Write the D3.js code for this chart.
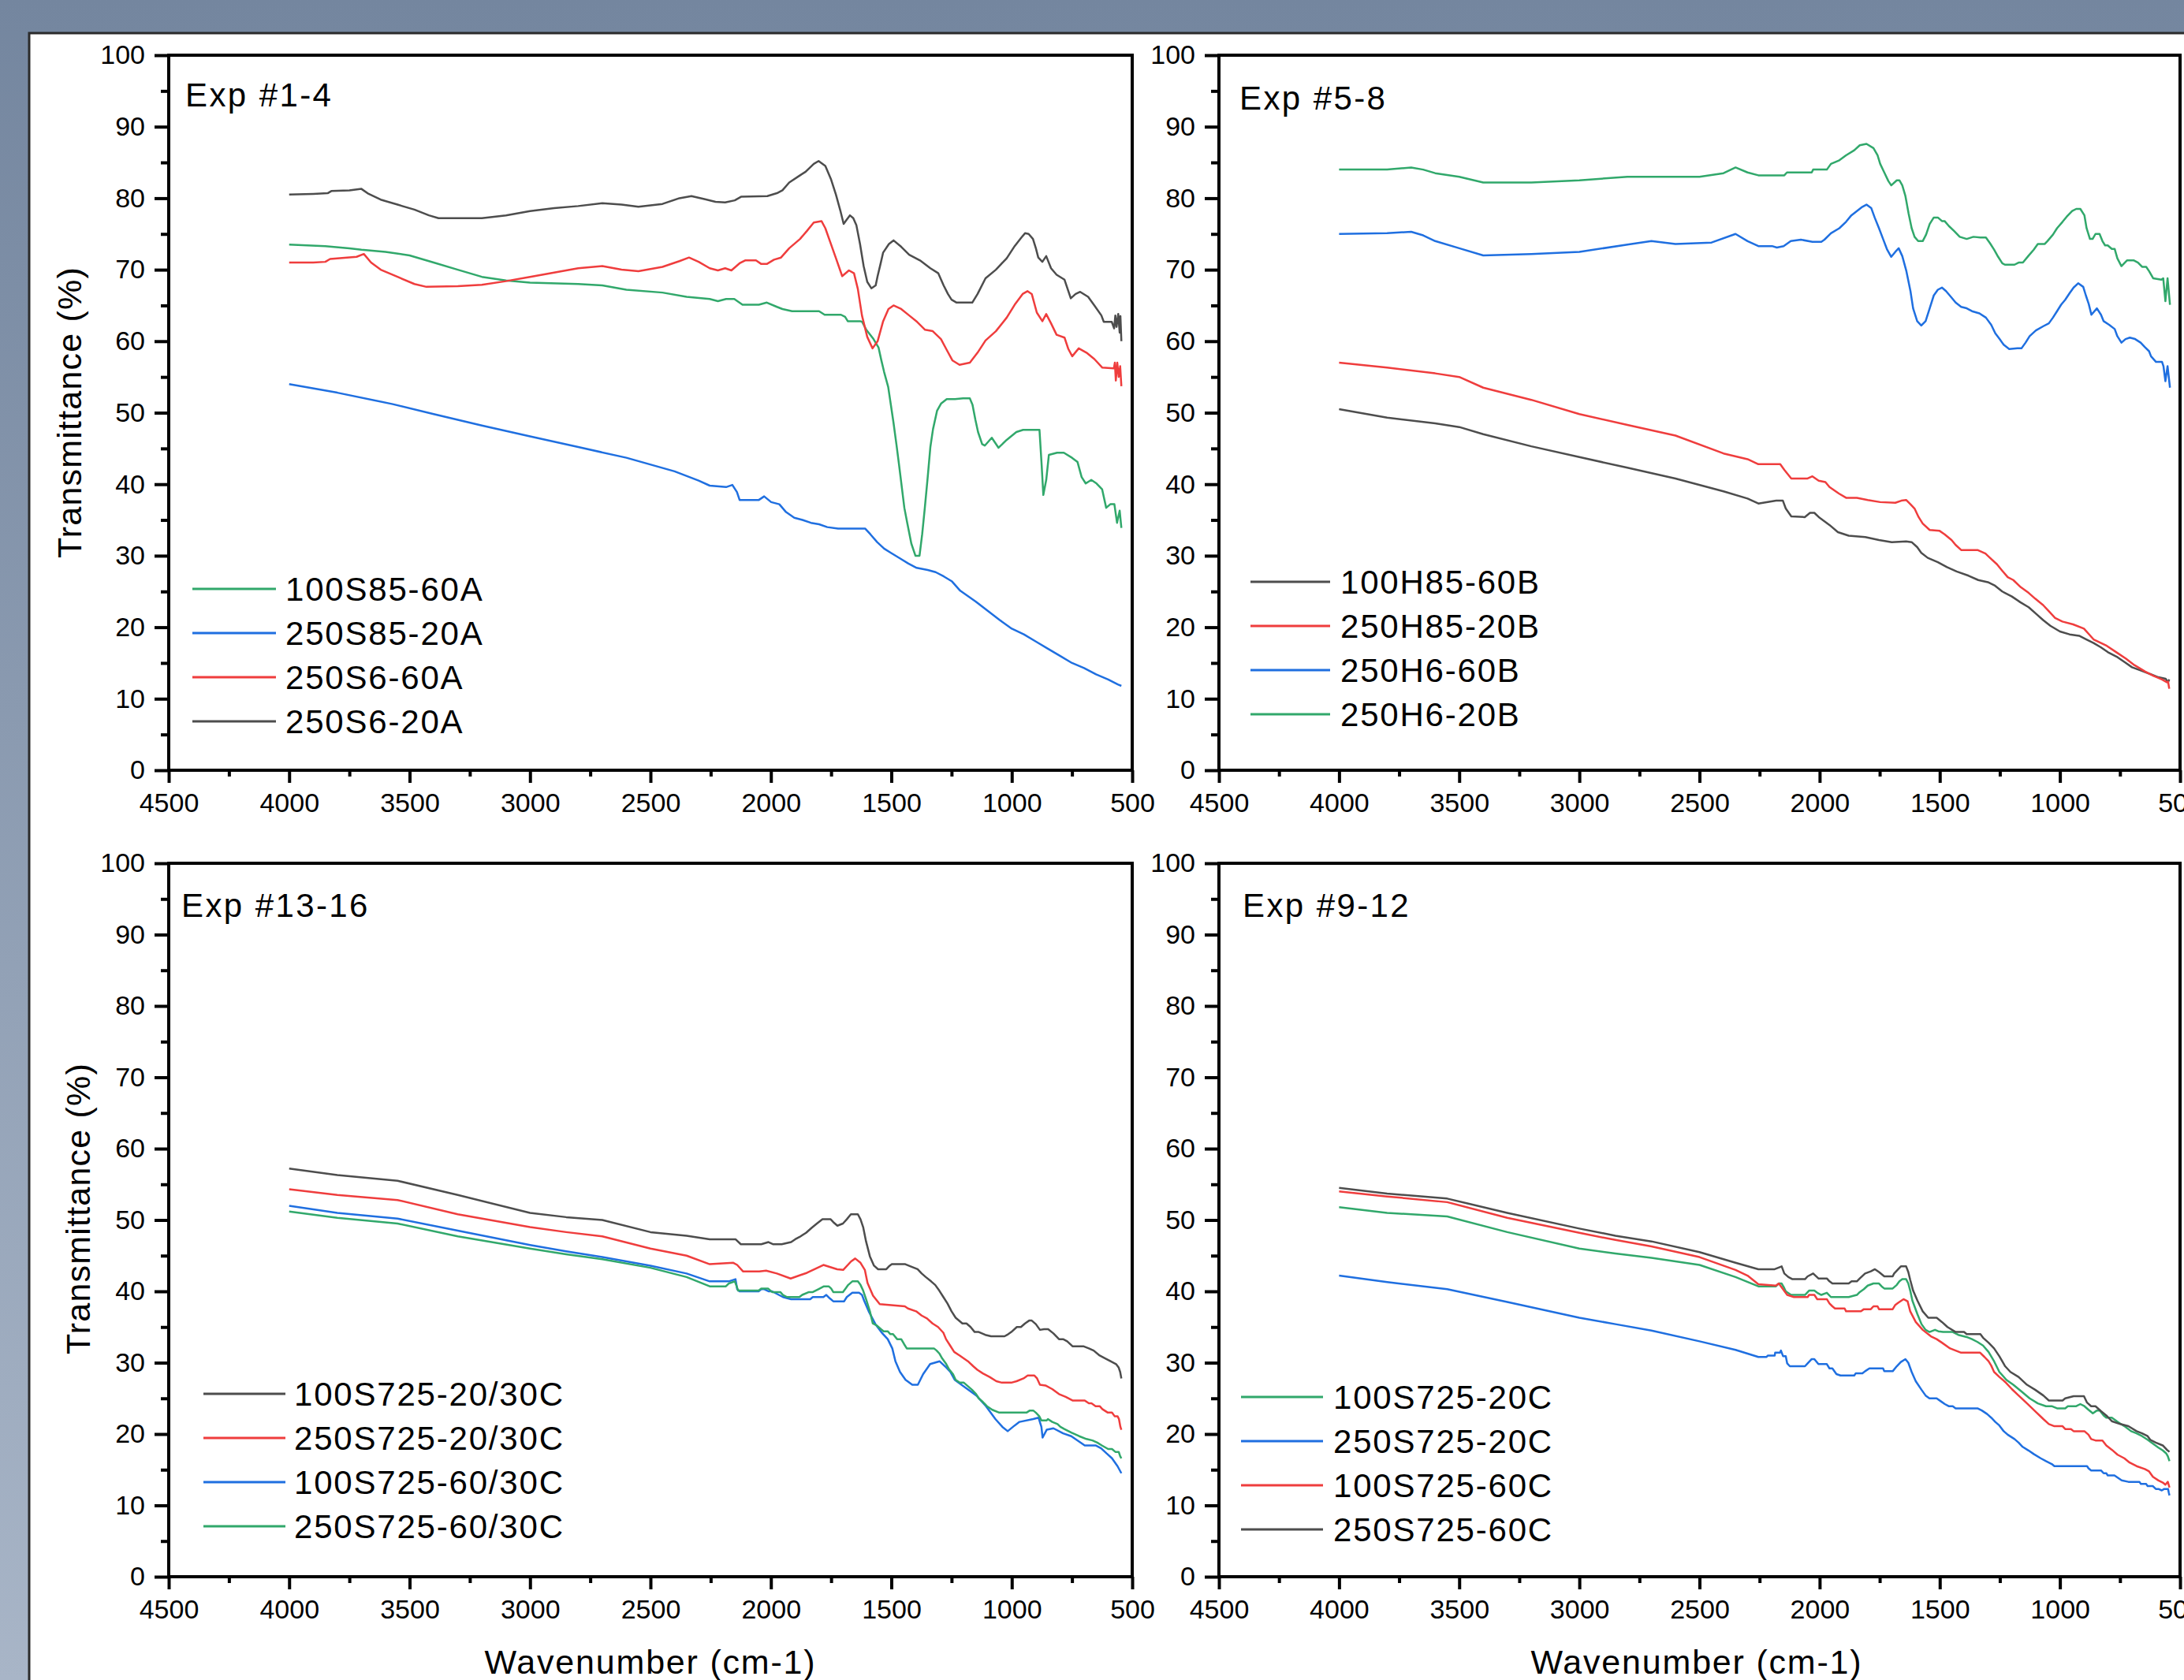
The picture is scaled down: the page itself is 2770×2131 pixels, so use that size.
<!DOCTYPE html>
<html>
<head>
<meta charset="utf-8">
<title>FTIR transmittance</title>
<script src="https://d3js.org/d3.v7.min.js"></script>
<style>
  body { margin: 0; background: #7b8ba3; }
  svg { display: block; font-family: "Liberation Sans", Arial, sans-serif; }
  .tick text { font-size: 34px; fill: #000; font-family: "Liberation Sans", Arial, sans-serif; }
  .tick line { stroke: #000; stroke-width: 4; }
  .domain { display: none; }
</style>
</head>
<body>
<svg id="chart" width="2770" height="2131"></svg>
<script>

// axis ticks
var xTicks = [4500, 4000, 3500, 3000, 2500, 2000, 1500, 1000, 500];
var xMinor = [4250, 3750, 3250, 2750, 2250, 1750, 1250, 750];
var yTicks = [0, 10, 20, 30, 40, 50, 60, 70, 80, 90, 100];
var yMinor = [5, 15, 25, 35, 45, 55, 65, 75, 85, 95];

var colBlack = "#4d4d4d", colRed = "#ef3d3d", colBlue = "#1f6fe0", colGreen = "#31a86b";

// ---- Exp #1-4 : [wavenumber, transmittance]
var exp1Names = ["100S85-60A", "250S85-20A", "250S6-60A", "250S6-20A"];
var exp1Colors = [colGreen, colBlue, colRed, colBlack];

var s100S85_60A = [[4000,73.5],[3850,73.3],[3750,73],[3700,72.8],[3600,72.5],[3500,72],[3400,71],[3300,70],[3200,69],[3100,68.5],[3000,68.2],[2800,68],[2700,67.8],[2600,67.2],[2450,66.8],[2350,66.2],[2254,65.9],[2220,65.6],[2186,65.9],[2152,65.9],[2118,65.1],[2050,65.1],[2017,65.4],[1975,64.8],[1952,64.5],[1912,64.2],[1800,64.2],[1777,63.7],[1709,63.7],[1692,63.4],[1681,62.8],[1630,62.8],[1621,62.7],[1604,61.6],[1576,60.4],[1553,59.1],[1542,57.4],[1530,55.7],[1513,53.6],[1502,51.1],[1491,48.6],[1479,45.6],[1468,42.7],[1457,39.7],[1446,36.7],[1434,34.6],[1417,31.7],[1400,30],[1383,30],[1372,33],[1361,36.7],[1349,41],[1338,45.2],[1327,47.7],[1310,50.3],[1293,51.3],[1270,51.9],[1236,51.9],[1202,52],[1174,52],[1163,51.1],[1151,49],[1140,47.3],[1123,45.6],[1112,45.4],[1083,46.5],[1055,45.1],[1021,46.2],[981,47.3],[953,47.6],[885,47.6],[876,42.7],[869,38.5],[857,40.6],[846,44.1],[812,44.4],[784,44.4],[750,43.7],[727,43.1],[710,41],[693,40.1],[670,40.6],[648,40.1],[625,39.3],[608,36.7],[591,37.2],[574,37.2],[563,34.6],[552,36.3],[545,33.9]];

var s250S85_20A = [[4000,54],[3800,52.8],[3570,51.2],[3400,49.8],[3200,48.2],[3000,46.7],[2800,45.2],[2600,43.7],[2400,41.8],[2300,40.5],[2254,39.8],[2186,39.6],[2160,39.9],[2141,38.9],[2130,37.8],[2050,37.8],[2028,38.3],[1999,37.5],[1965,37.2],[1937,36.1],[1903,35.3],[1869,35],[1834,34.6],[1800,34.4],[1766,34],[1721,33.8],[1609,33.8],[1587,33],[1559,31.9],[1530,31],[1502,30.4],[1463,29.6],[1429,28.9],[1395,28.3],[1349,28],[1316,27.7],[1282,27.1],[1248,26.4],[1214,25.1],[1150,23.6],[1100,22.3],[1050,21],[1000,19.8],[950,19],[900,18],[850,17],[800,16],[750,15],[700,14.3],[650,13.4],[600,12.7],[560,12],[545,11.8]];

var s250S6_60A = [[4000,71],[3900,71],[3850,71.1],[3830,71.5],[3720,71.8],[3690,72.2],[3660,71],[3620,70],[3550,69],[3480,68],[3430,67.6],[3300,67.7],[3200,67.9],[3100,68.4],[3000,69],[2900,69.6],[2800,70.2],[2700,70.5],[2620,70],[2550,69.8],[2450,70.4],[2380,71.2],[2340,71.7],[2300,71.1],[2254,70.2],[2220,69.9],[2190,70.2],[2164,69.9],[2130,70.9],[2107,71.3],[2062,71.3],[2040,70.8],[2017,70.8],[1987,71.4],[1958,71.7],[1924,73],[1879,74.3],[1851,75.4],[1822,76.6],[1790,76.8],[1774,75.8],[1753,73.8],[1731,71.7],[1704,69.1],[1676,69.9],[1655,69.5],[1639,67.3],[1622,63.6],[1600,60.6],[1578,59],[1557,60],[1534,62.8],[1512,64.5],[1491,65],[1459,64.5],[1426,63.6],[1393,62.7],[1360,61.6],[1328,61.4],[1294,60.3],[1272,58.9],[1246,57.3],[1217,56.7],[1174,57],[1142,58.4],[1109,60.1],[1066,61.4],[1021,63.3],[988,65.1],[955,66.6],[935,67],[917,66.6],[896,64],[873,62.8],[857,63.8],[837,62.5],[814,60.9],[781,60.5],[765,58.9],[749,57.9],[722,59],[690,58.4],[657,57.5],[624,56.3],[576,56.2],[572,57],[568,54.5],[562,57],[556,55],[550,56.5],[545,53.7]];

var s250S6_20A = [[4000,80.5],[3900,80.6],[3840,80.7],[3825,81],[3750,81.1],[3700,81.3],[3670,80.6],[3620,79.8],[3550,79.1],[3480,78.4],[3420,77.6],[3380,77.2],[3200,77.2],[3100,77.6],[3000,78.2],[2900,78.6],[2800,78.9],[2700,79.3],[2620,79.1],[2550,78.8],[2450,79.2],[2380,80],[2330,80.3],[2280,79.9],[2230,79.5],[2190,79.4],[2150,79.7],[2124,80.2],[2015,80.3],[1975,80.7],[1952,81.1],[1924,82.2],[1879,83.2],[1856,83.7],[1822,84.8],[1802,85.2],[1774,84.5],[1750,82.6],[1730,80.5],[1712,78.3],[1698,76.4],[1685,77],[1672,77.6],[1658,77.2],[1645,76.2],[1630,73.6],[1615,70.5],[1600,68.3],[1583,67.4],[1565,67.8],[1557,69.1],[1545,70.8],[1534,72.4],[1510,73.6],[1491,74.1],[1459,73.2],[1426,72.1],[1381,71.3],[1338,70.2],[1305,69.5],[1283,67.8],[1265,66.6],[1250,65.8],[1229,65.4],[1164,65.4],[1142,66.6],[1109,68.8],[1066,70],[1021,71.6],[988,73.3],[960,74.5],[945,75.1],[930,75],[912,74.3],[900,73],[890,71.7],[873,71.1],[857,71.9],[837,70.2],[814,69.3],[781,68.6],[765,67],[755,66],[735,66.6],[716,66.9],[683,66.2],[657,65],[628,63.6],[618,62.7],[585,62.7],[575,61.8],[570,63.6],[565,62],[558,63.8],[552,61.2],[549,63.5],[545,60]];

// ---- Exp #5-8
var exp2Names = ["100H85-60B", "250H85-20B", "250H6-60B", "250H6-20B"];
var exp2Colors = [colBlack, colRed, colBlue, colGreen];

var s100H85_60B = [[4000,50.5],[3800,49.3],[3600,48.5],[3500,48],[3400,47],[3200,45.3],[3000,43.8],[2800,42.3],[2600,40.8],[2400,39],[2300,38],[2255,37.3],[2181,37.7],[2153,37.7],[2141,36.6],[2118,35.5],[2062,35.4],[2040,36],[2022,36],[2000,35.3],[1959,34.3],[1924,33.3],[1879,32.8],[1810,32.6],[1753,32.2],[1700,31.9],[1640,32],[1617,31.9],[1594,31.2],[1577,30.4],[1550,29.7],[1508,29.1],[1470,28.4],[1430,27.8],[1380,27.2],[1340,26.6],[1300,26.3],[1270,25.8],[1240,25],[1200,24.3],[1165,23.5],[1130,22.8],[1100,21.9],[1070,21],[1040,20.2],[1000,19.4],[960,19],[920,18.8],[890,18.3],[860,17.8],[830,17.2],[800,16.5],[760,15.8],[730,15.1],[700,14.4],[660,13.9],[620,13.4],[590,13],[560,12.8],[550,12.3],[545,12.7]];

var s250H85_20B = [[4000,57],[3800,56.3],[3600,55.5],[3500,55],[3400,53.5],[3200,51.8],[3000,49.8],[2800,48.3],[2600,46.8],[2400,44.3],[2300,43.5],[2255,42.8],[2164,42.8],[2147,42],[2118,40.8],[2050,40.8],[2030,41.1],[2004,40.5],[1976,40.3],[1959,39.6],[1920,38.7],[1890,38.1],[1845,38.1],[1800,37.8],[1748,37.5],[1685,37.4],[1660,37.7],[1640,37.8],[1622,37.2],[1605,36.6],[1588,35.4],[1571,34.5],[1542,33.6],[1502,33.5],[1480,33],[1451,32.2],[1434,31.5],[1411,30.8],[1343,30.8],[1310,30.3],[1291,29.7],[1262,28.8],[1240,27.9],[1217,27],[1194,26.6],[1163,25.6],[1130,24.8],[1103,24],[1070,23.1],[1045,22.2],[1020,21.3],[990,20.8],[945,20.4],[900,19.8],[860,18.3],[805,17.4],[765,16.5],[725,15.6],[690,14.7],[645,13.8],[610,13.2],[575,12.7],[555,12.3],[550,12.4],[545,11.4]];

var s250H6_60B = [[4000,75],[3800,75.1],[3700,75.3],[3650,74.8],[3600,74],[3500,73],[3400,72],[3200,72.2],[3000,72.5],[2800,73.5],[2700,74],[2600,73.6],[2450,73.8],[2350,75],[2300,74],[2255,73.3],[2198,73.3],[2178,73.1],[2150,73.3],[2120,74],[2078,74.2],[2030,73.9],[1993,73.9],[1980,74.2],[1953,75.1],[1918,75.8],[1890,76.7],[1868,77.6],[1845,78.2],[1822,78.8],[1805,79.1],[1785,78.6],[1771,77.3],[1753,75.8],[1736,74.3],[1719,72.8],[1702,71.8],[1685,72.5],[1671,73],[1656,71.9],[1639,69.8],[1622,67],[1611,64.6],[1594,62.8],[1577,62.2],[1559,62.8],[1542,64.6],[1525,66.4],[1508,67.2],[1491,67.5],[1474,67],[1451,66.1],[1434,65.4],[1411,64.8],[1388,64.6],[1366,64.2],[1335,63.9],[1308,63.3],[1286,62.3],[1269,61.1],[1251,60.3],[1234,59.5],[1211,58.9],[1177,59],[1160,59],[1143,59.8],[1126,60.7],[1100,61.5],[1069,62.1],[1046,62.5],[1029,63.3],[1012,64.2],[995,65.1],[978,65.8],[960,66.7],[943,67.5],[924,68.1],[903,67.6],[892,66.4],[880,65.2],[869,63.7],[846,64.6],[829,63.7],[818,62.8],[795,62.3],[772,61.7],[761,60.7],[744,59.8],[727,60.3],[709,60.5],[687,60.3],[664,59.8],[647,59.2],[629,58.6],[621,57.9],[600,57.1],[575,57.1],[569,56.5],[561,54.4],[552,56.5],[542,53.5]];

var s250H6_20B = [[4000,84],[3800,84],[3700,84.3],[3650,84],[3600,83.5],[3500,83],[3400,82.2],[3200,82.2],[3000,82.5],[2800,83],[2600,83],[2500,83],[2400,83.5],[2350,84.3],[2300,83.6],[2255,83.2],[2147,83.2],[2136,83.6],[2033,83.6],[2027,84],[1970,84],[1953,84.8],[1918,85.3],[1890,86],[1856,86.7],[1833,87.4],[1805,87.6],[1776,87],[1759,86],[1748,84.8],[1731,83.6],[1714,82.4],[1702,81.8],[1679,82.5],[1668,82.5],[1656,81.8],[1643,80.3],[1630,77.9],[1617,75.8],[1605,74.6],[1590,74],[1571,74],[1557,74.9],[1542,76.4],[1525,77.3],[1508,77.3],[1491,76.8],[1480,76.8],[1462,76.1],[1440,75.4],[1417,74.6],[1388,74.3],[1360,74.6],[1331,74.5],[1308,74.5],[1291,73.7],[1274,72.8],[1257,71.8],[1240,70.9],[1229,70.7],[1189,70.7],[1172,71],[1154,71],[1132,71.9],[1109,72.8],[1092,73.6],[1063,73.6],[1052,74],[1029,74.9],[1012,75.8],[989,76.7],[972,77.4],[949,78.2],[932,78.5],[915,78.5],[898,77.6],[889,75.8],[875,74.3],[864,74.3],[852,75],[835,75],[823,74],[812,73.4],[801,73.4],[784,72.9],[772,72.9],[761,71.6],[744,70.5],[721,71.3],[692,71.3],[675,71],[658,70.4],[641,70.4],[629,69.8],[612,68.8],[578,68.6],[570,68.8],[561,65.6],[552,68.8],[542,65.1]];

// ---- Exp #13-16
var exp3Names = ["100S725-20/30C", "250S725-20/30C", "100S725-60/30C", "250S725-60/30C"];
var exp3Colors = [colBlack, colRed, colBlue, colGreen];

var s100S725_20_30C = [[4000,57.2],[3800,56.3],[3550,55.5],[3300,53.5],[3000,51],[2850,50.4],[2700,50],[2500,48.3],[2350,47.8],[2254,47.3],[2147,47.3],[2125,46.6],[2040,46.6],[2010,46.9],[1990,46.6],[1955,46.6],[1916,46.9],[1899,47.3],[1882,47.6],[1854,48.2],[1831,48.9],[1809,49.5],[1786,50.1],[1752,50.1],[1741,49.7],[1724,49.2],[1701,49.5],[1685,50.1],[1668,50.8],[1639,50.8],[1628,50.1],[1617,49],[1605,47],[1589,44.9],[1572,43.6],[1555,43.1],[1521,43.1],[1510,43.5],[1498,43.8],[1442,43.8],[1420,43.5],[1391,43.1],[1374,42.5],[1357,42],[1335,41.4],[1318,40.9],[1301,40.1],[1284,39.2],[1267,38.3],[1250,37.2],[1233,36.3],[1205,35.5],[1188,35.5],[1171,35],[1154,34.3],[1137,34.3],[1110,33.9],[1086,33.7],[1030,33.7],[1019,33.9],[1002,34.3],[979,35],[962,35],[945,35.5],[928,35.9],[917,35.9],[900,35.4],[883,34.6],[866,34.7],[849,34.7],[827,34.1],[804,33.3],[787,33.3],[770,33],[748,32.3],[703,32.3],[680,32],[660,31.7],[635,31],[612,30.6],[590,30.2],[567,29.8],[556,29.3],[550,28.7],[545,27.8]];

var s250S725_20_30C = [[4000,54.3],[3800,53.5],[3550,52.8],[3300,50.8],[3000,49],[2850,48.3],[2700,47.7],[2500,46],[2350,45],[2254,43.8],[2156,44],[2140,43.7],[2116,42.8],[2048,42.8],[2020,42.9],[1975,42.5],[1918,41.8],[1850,42.6],[1782,43.7],[1725,43.1],[1700,43],[1667,44.2],[1650,44.6],[1628,44],[1610,43],[1599,41.2],[1576,39.4],[1548,38.2],[1444,37.9],[1431,37.6],[1397,37.2],[1374,36.6],[1352,36.2],[1329,35.5],[1306,35],[1284,34.2],[1273,33.3],[1256,32.4],[1239,31.5],[1216,31],[1182,30.2],[1160,29.5],[1143,29],[1120,28.5],[1092,28],[1064,27.4],[1041,27.2],[1002,27.2],[980,27.4],[951,27.8],[934,28.2],[906,28.2],[895,27.8],[883,26.9],[860,26.8],[832,26.3],[804,25.6],[776,25.2],[748,24.7],[697,24.7],[680,24.3],[669,24.3],[652,23.9],[635,23.9],[624,23.5],[601,23],[584,23],[573,22.5],[561,22.5],[555,22.1],[549,21],[545,20.6]];

var s100S725_60_30C = [[4000,52],[3800,51],[3550,50.2],[3300,48.5],[3000,46.5],[2850,45.6],[2700,44.8],[2500,43.6],[2350,42.5],[2254,41.4],[2175,41.4],[2147,41.7],[2140,40.3],[2130,40],[2051,40],[2040,40.3],[2027,40.3],[2010,40],[1995,40],[1950,39.2],[1916,38.9],[1837,38.9],[1826,39.2],[1782,39.2],[1770,39.5],[1755,39],[1741,38.6],[1696,38.6],[1685,39.2],[1662,39.8],[1634,39.8],[1622,39.5],[1613,38.7],[1594,37.2],[1566,35.4],[1537,34.1],[1515,33.3],[1496,32],[1483,30.2],[1464,28.7],[1441,27.6],[1413,26.9],[1390,26.9],[1368,28.4],[1339,29.8],[1300,30.2],[1271,29.3],[1255,28.7],[1237,27.6],[1192,26.5],[1147,25.4],[1107,23.9],[1068,22.1],[1039,21],[1017,20.4],[988,21.2],[968,21.7],[911,22.1],[889,22.3],[877,21],[872,19.5],[855,20.6],[827,20.8],[787,20.1],[753,19.7],[697,18.4],[652,18.4],[629,18],[607,17.3],[584,16.6],[561,15.5],[545,14.5]];

var s250S725_60_30C = [[4000,51.2],[3800,50.3],[3550,49.5],[3300,47.7],[3000,46],[2850,45.2],[2700,44.5],[2500,43.3],[2350,42],[2254,40.7],[2187,40.7],[2175,41.1],[2150,41.4],[2142,40.7],[2136,40.1],[2051,40.1],[2040,40.4],[2012,40.4],[1995,39.9],[1961,39.9],[1950,39.5],[1933,39.2],[1882,39.2],[1870,39.5],[1842,39.9],[1826,39.9],[1803,40.3],[1780,40.7],[1760,40.7],[1750,40.4],[1741,39.9],[1701,39.9],[1690,40.4],[1679,40.9],[1662,41.4],[1639,41.4],[1628,40.9],[1617,40.1],[1605,38.9],[1589,37.2],[1577,35.5],[1560,35.2],[1543,34.7],[1532,34.4],[1515,34.4],[1504,34],[1493,34],[1476,33.3],[1459,33.3],[1447,32.6],[1436,32],[1323,32],[1312,31.7],[1301,31.3],[1289,30.6],[1272,29.8],[1261,29.1],[1244,28.4],[1233,27.6],[1216,27.2],[1199,27.2],[1182,26.7],[1165,26.2],[1148,25.6],[1137,25],[1120,24.5],[1103,23.9],[1081,23.4],[1052,23],[939,23],[925,23.3],[911,23.3],[900,23],[886,22.5],[877,21.9],[855,21.9],[850,22.1],[832,21.7],[810,21.4],[798,21],[782,20.7],[753,20.2],[720,19.7],[690,19.3],[665,19.1],[645,18.8],[626,18.4],[600,17.9],[584,17.9],[570,17.5],[556,17.5],[550,16.9],[545,16.6]];

// ---- Exp #9-12
var exp4Names = ["100S725-20C", "250S725-20C", "100S725-60C", "250S725-60C"];
var exp4Colors = [colGreen, colBlue, colRed, colBlack];

var s100S725_20C = [[4000,51.8],[3800,51],[3550,50.5],[3300,48.3],[3000,46],[2850,45.3],[2700,44.7],[2500,43.7],[2350,42],[2255,40.7],[2182,40.7],[2170,41.1],[2158,41.1],[2148,40.5],[2141,40],[2119,39.5],[2061,39.5],[2044,40.1],[2022,40.1],[2010,39.8],[1993,39.5],[1970,39.8],[1953,39.2],[1879,39.2],[1845,39.5],[1833,39.9],[1816,40.3],[1800,40.8],[1776,41.1],[1753,41.1],[1742,40.7],[1731,40.4],[1696,40.4],[1679,40.9],[1668,41.4],[1656,41.7],[1640,41.7],[1631,41.1],[1623,40.1],[1614,38.7],[1593,36.8],[1576,35.4],[1559,34.6],[1543,34.3],[1520,34.6],[1506,34.4],[1486,34.3],[1446,34.3],[1423,33.9],[1388,33.6],[1366,33.3],[1343,32.9],[1320,32.4],[1297,31.5],[1274,30.2],[1252,28.7],[1223,27.6],[1194,26.9],[1161,26],[1126,25],[1092,24.3],[1058,23.9],[1034,23.9],[1012,23.6],[978,23.6],[967,23.9],[932,23.9],[915,24.2],[898,23.9],[881,23.4],[863,22.9],[846,23.3],[834,23.3],[818,22.6],[807,22.3],[784,22.3],[760,21.7],[727,21],[704,20.4],[681,20.1],[658,19.7],[635,19.2],[607,18.5],[590,18.1],[572,17.7],[558,17.3],[551,16.9],[544,16.2]];

var s250S725_20C = [[4000,42.2],[3800,41.3],[3550,40.3],[3300,38.5],[3000,36.3],[2850,35.4],[2700,34.5],[2500,33],[2350,31.8],[2255,30.8],[2221,30.8],[2216,31],[2187,31],[2185,31.4],[2165,31.4],[2161,31.7],[2152,30.9],[2141,30.9],[2135,29.9],[2124,29.5],[2061,29.5],[2050,29.9],[2033,30.5],[2022,30.5],[2005,29.8],[1970,29.8],[1959,29.2],[1947,29.2],[1930,28.4],[1913,28.2],[1856,28.2],[1850,28.5],[1822,28.5],[1811,28.8],[1793,29.2],[1736,29.2],[1731,28.8],[1696,28.8],[1679,29.5],[1662,30.1],[1643,30.5],[1631,30],[1617,28.7],[1600,27.4],[1576,26.2],[1559,25.4],[1543,25],[1513,25],[1496,24.6],[1479,24.2],[1463,23.9],[1446,23.9],[1434,23.6],[1343,23.6],[1325,23.3],[1303,22.8],[1286,22.3],[1269,21.7],[1252,21.2],[1234,20.4],[1217,19.9],[1189,19.3],[1172,18.8],[1155,18.2],[1131,17.7],[1109,17.2],[1080,16.6],[1058,16.2],[1034,15.8],[1023,15.5],[887,15.5],[881,15.2],[870,14.9],[829,14.9],[818,14.5],[807,14.5],[801,14.2],[773,14.2],[743,13.5],[715,13.3],[669,13.3],[663,13],[641,13],[635,12.7],[613,12.7],[601,12.3],[590,12.3],[576,12.1],[566,12.3],[550,12.3],[547,11.8],[544,11.4]];

var s100S725_60C = [[4000,54],[3800,53.3],[3550,52.5],[3300,50.3],[3000,48.2],[2850,47.2],[2700,46.3],[2500,44.8],[2350,43],[2300,42.2],[2255,41],[2182,40.8],[2170,41.1],[2135,39.5],[2107,39.2],[2050,39.2],[2044,39.5],[2022,39.5],[2010,38.9],[1970,38.9],[1959,38.3],[1947,37.9],[1936,37.6],[1896,37.6],[1890,37.2],[1828,37.2],[1816,37.5],[1787,37.5],[1776,37.9],[1759,37.9],[1753,37.5],[1696,37.5],[1685,38.1],[1673,38.4],[1651,38.9],[1634,38.6],[1623,37.2],[1600,35.7],[1571,34.6],[1537,33.7],[1513,33.3],[1491,32.8],[1457,32],[1434,31.7],[1411,31.4],[1332,31.4],[1314,30.8],[1297,30.2],[1286,29.6],[1274,28.7],[1252,28],[1228,27.3],[1200,26.3],[1172,25.4],[1137,24.3],[1103,23.2],[1069,22.1],[1046,21.4],[1023,21.1],[989,21.1],[978,20.7],[954,20.7],[943,20.4],[898,20.4],[881,19.9],[870,19.3],[852,19.1],[823,19.1],[807,18.4],[784,17.8],[760,17.1],[732,16.6],[710,16],[681,15.5],[647,15.1],[630,14.8],[613,14],[590,13.5],[572,13.2],[561,12.9],[551,13.3],[544,12.5]];

var s250S725_60C = [[4000,54.5],[3800,53.7],[3550,53],[3300,51],[3000,48.8],[2850,47.8],[2700,47],[2500,45.5],[2350,44],[2255,43.1],[2187,43.1],[2158,43.5],[2147,42.5],[2130,42],[2113,41.7],[2061,41.7],[2050,42.1],[2027,42.5],[2005,41.8],[1970,41.8],[1959,41.4],[1947,41.1],[1879,41.1],[1867,41.4],[1845,41.4],[1833,41.8],[1811,42.5],[1787,42.8],[1770,43.1],[1753,42.7],[1731,42.1],[1696,42.1],[1690,42.5],[1673,43.1],[1662,43.5],[1640,43.5],[1631,42.7],[1623,41.6],[1611,40.1],[1593,38.7],[1571,37.2],[1548,36.3],[1513,36.3],[1491,35.7],[1468,35],[1434,34.3],[1399,34.3],[1388,34],[1331,34],[1320,33.5],[1297,32.8],[1274,32],[1252,30.9],[1228,29.5],[1206,28.7],[1172,28],[1137,26.9],[1103,26.2],[1069,25.4],[1046,24.7],[989,24.7],[978,25],[943,25.3],[900,25.3],[887,24.4],[870,23.9],[852,23.9],[829,23.2],[807,22.6],[784,21.8],[749,21.4],[715,21.1],[681,20.4],[658,20.1],[635,19.7],[624,19.2],[601,18.8],[572,18.4],[555,17.8],[544,17.5]];

// ---- layout
var panels = [
  { title: "Exp #1-4", left: 214, top: 70, w: 1222, h: 907, names: exp1Names, colors: exp1Colors,
    series: [s100S85_60A, s250S85_20A, s250S6_60A, s250S6_20A], titleAt: [21, 50], leg: { x1: 30, x2: 136, tx: 148, y: 677 } },
  { title: "Exp #5-8", left: 1546, top: 70, w: 1219, h: 907, names: exp2Names, colors: exp2Colors,
    series: [s100H85_60B, s250H85_20B, s250H6_60B, s250H6_20B], titleAt: [26, 54], leg: { x1: 40, x2: 141, tx: 154, y: 668 } },
  { title: "Exp #13-16", left: 214, top: 1095, w: 1222, h: 905, names: exp3Names, colors: exp3Colors,
    series: [s100S725_20_30C, s250S725_20_30C, s100S725_60_30C, s250S725_60_30C], titleAt: [16, 53], leg: { x1: 44, x2: 148, tx: 159, y: 673 } },
  { title: "Exp #9-12", left: 1546, top: 1095, w: 1219, h: 905, names: exp4Names, colors: exp4Colors,
    series: [s100S725_20C, s250S725_20C, s100S725_60C, s250S725_60C], titleAt: [30, 53], leg: { x1: 28, x2: 132, tx: 145, y: 677 } }
];

var svg = d3.select("#chart");

// window background and white sheet
var grad = svg.append("defs").append("linearGradient")
    .attr("id", "bg").attr("x1", 0).attr("y1", 0).attr("x2", 0).attr("y2", 1);
grad.append("stop").attr("offset", "0%").attr("stop-color", "#74869f");
grad.append("stop").attr("offset", "100%").attr("stop-color", "#a8b5c7");
svg.append("rect").attr("width", 2770).attr("height", 2131).attr("fill", "url(#bg)");
svg.append("rect").attr("x", 37).attr("y", 42).attr("width", 2800).attr("height", 2200)
    .attr("fill", "#fff").attr("stroke", "#2b2b2b").attr("stroke-width", 3);

panels.forEach(function(p) {
  var g = svg.append("g").attr("transform", "translate(" + p.left + "," + p.top + ")");

  var x = d3.scaleLinear().domain([4500, 500]).range([0, p.w]);
  var y = d3.scaleLinear().domain([0, 100]).range([p.h, 0]);

  // minor ticks
  g.append("g").attr("transform", "translate(0," + p.h + ")")
    .call(d3.axisBottom(x).tickValues(xMinor).tickSize(8).tickSizeOuter(0).tickFormat(""));
  g.append("g")
    .call(d3.axisLeft(y).tickValues(yMinor).tickSize(10).tickSizeOuter(0).tickFormat(""));

  // major ticks
  g.append("g").attr("transform", "translate(0," + p.h + ")")
    .call(d3.axisBottom(x).tickValues(xTicks).tickSize(16).tickSizeOuter(0).tickPadding(13).tickFormat(d3.format("d")));
  g.append("g")
    .call(d3.axisLeft(y).tickValues(yTicks).tickSize(18).tickSizeOuter(0).tickPadding(12).tickFormat(d3.format("d")));

  // spectra
  var line = d3.line()
    .x(function(d) { return x(d[0]); })
    .y(function(d) { return y(d[1]); });

  p.series.forEach(function(s, i) {
    g.append("path")
      .datum(s)
      .attr("fill", "none")
      .attr("stroke", p.colors[i])
      .attr("stroke-width", 2.5)
      .attr("stroke-linejoin", "round")
      .attr("d", line);
  });

  // frame
  g.append("rect").attr("width", p.w).attr("height", p.h)
    .attr("fill", "none").attr("stroke", "#000").attr("stroke-width", 4);

  // panel title
  g.append("text").attr("x", p.titleAt[0]).attr("y", p.titleAt[1]).attr("dy", "0.35em")
    .attr("font-size", 42).attr("letter-spacing", 2.4).text(p.title);

  // legend
  p.names.forEach(function(n, i) {
    var ly = p.leg.y + i * 56;
    g.append("line").attr("x1", p.leg.x1).attr("x2", p.leg.x2).attr("y1", ly).attr("y2", ly)
      .attr("stroke", p.colors[i]).attr("stroke-width", 3);
    g.append("text").attr("x", p.leg.tx).attr("y", ly).attr("dy", "0.36em")
      .attr("font-size", 42).attr("letter-spacing", 1.8).text(n);
  });
});

// axis titles
[[88, 523], [99, 1533]].forEach(function(c) {
  svg.append("text")
    .attr("transform", "translate(" + c[0] + "," + c[1] + ") rotate(-90)")
    .attr("text-anchor", "middle").attr("dy", "0.35em")
    .attr("font-size", 43).attr("letter-spacing", 1.2)
    .text("Transmittance (%)");
});
[[825, 2108], [2152, 2108]].forEach(function(c) {
  svg.append("text")
    .attr("x", c[0]).attr("y", c[1])
    .attr("text-anchor", "middle").attr("dy", "0.35em")
    .attr("font-size", 43).attr("letter-spacing", 1.8)
    .text("Wavenumber (cm-1)");
});

</script>
</body>
</html>
